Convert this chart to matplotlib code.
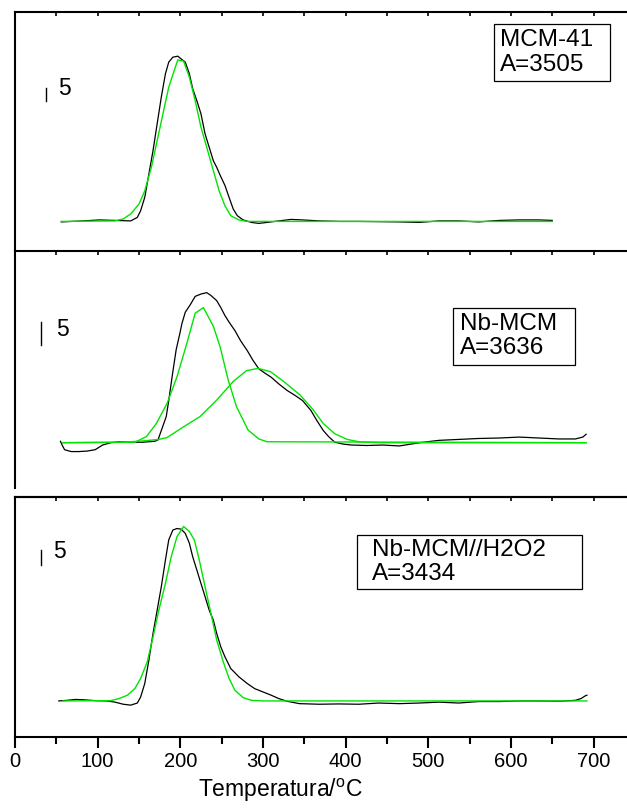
import matplotlib
matplotlib.use("Agg")
import matplotlib.pyplot as plt
from matplotlib.patches import Rectangle
from matplotlib.ticker import MultipleLocator, NullFormatter

plt.rcParams["font.family"] = ["Liberation Sans", "DejaVu Sans"]
plt.rcParams["mathtext.default"] = "regular"

# Panel 1: MCM-41
t1 = [56, 82, 102, 121, 140, 148, 152, 157, 162, 167, 172, 177, 182, 186, 191, 197, 201, 206, 211, 215,
      220, 225, 230, 235, 240, 244, 249, 254, 259, 264, 269, 276, 286, 295, 305, 319, 334, 348, 368, 392,
      416, 465, 489, 513, 537, 561, 586, 610, 634, 650]
s1 = [-0.2, 0.2, 0.6, 0.4, 0.2, 1.6, 4.3, 9.7, 19.1, 28.5, 39.3, 50, 59.4, 64.1, 66.1, 66.5, 65.4, 64.1, 59.4, 53.4,
      48.6, 43.3, 35.2, 29.8, 24.4, 21.8, 18, 14.5, 9.7, 5, 2.3, 0.6, -0.4, -0.8, -0.4, 0.2, 0.8, 0.6, 0.2, 0,
      0, -0.2, -0.4, 0.2, 0.2, -0.2, 0.4, 0.6, 0.6, 0.4]
fit1_t = [56, 121, 131, 140, 150, 157, 165, 172, 179, 186, 194, 197, 204, 211, 218, 225, 232, 240, 247, 254,
          261, 271, 281, 319, 650]
fit1_s = [0, 0.2, 1, 3, 7, 12.3, 21.8, 32.5, 43.3, 54, 62.1, 65, 64.5, 58, 48.6, 37.9, 29.8, 20.4, 12.3, 6.3,
          2.3, 0.6, 0, 0, 0]

# Panel 2: Nb-MCM (two fitted peaks)
t2 = [55, 57, 60, 68, 77, 87, 97, 106, 116, 126, 140, 155, 169, 173, 177, 183, 186, 190, 195, 199,
      202, 206, 212, 218, 225, 232, 237, 244, 249, 254, 259, 266, 273, 281, 288, 295, 303, 310, 319, 329,
      339, 348, 358, 365, 373, 380, 387, 397, 407, 426, 445, 465, 479, 494, 513, 537, 561, 586, 610, 634,
      658, 678, 687, 691]
s2 = [0.3, -0.5, -1.5, -1.9, -1.9, -1.8, -1.5, -0.5, 0, 0.2, 0.1, 0.1, 0.3, 0.6, 2.6, 5.6, 9, 14, 19.9, 23,
      25.5, 27.9, 29.5, 31.3, 31.8, 32.1, 31.5, 30.4, 28.9, 27.2, 25.8, 24, 21.8, 19.7, 17.6, 15.8, 14.8, 14, 12.6, 11.2,
      10.1, 9, 6.9, 4.8, 2.6, 1.2, 0.1, -0.3, -0.5, -0.6, -0.5, -0.7, -0.3, 0.1, 0.5, 0.7, 0.9, 1, 1.2, 1,
      0.8, 0.8, 1.2, 1.8]
fit2a_t = [58, 145, 159, 171, 184, 196, 208, 218, 228, 240, 248, 258, 268, 282, 295, 305, 691]
fit2a_s = [0, 0.1, 1.3, 4.1, 8.4, 14.1, 21.3, 27.7, 28.9, 24.9, 20.6, 13.4, 7.7, 2.7, 0.8, 0.2, 0]
fit2b_t = [58, 126, 150, 174, 184, 204, 224, 244, 264, 280, 294, 309, 325, 345, 361, 373, 387, 402, 416, 440, 691]
fit2b_s = [0, 0.1, 0.3, 0.7, 1.1, 3.4, 5.6, 9.1, 13.1, 15.4, 15.9, 15.2, 13.1, 10.2, 7, 4.1, 1.9, 0.7, 0.2, 0, 0]

# Panel 3: Nb-MCM//H2O2
t3 = [53, 63, 73, 82, 97, 111, 121, 131, 140, 148, 152, 157, 162, 167, 172, 177, 182, 186, 191, 196,
      201, 206, 211, 215, 220, 225, 230, 235, 240, 244, 249, 254, 261, 271, 281, 290, 300, 310, 319, 329,
      344, 368, 392, 416, 440, 465, 489, 513, 537, 561, 586, 610, 634, 658, 678, 685, 690, 692]
s3 = [0, 0.2, 0.5, 0.4, 0.1, 0, -0.4, -1.1, -1.4, -0.7, 1.3, 5.8, 13.6, 22.5, 30.2, 38, 46.9, 53.6, 56.9, 57.4,
      57.2, 55.8, 52.5, 48, 43.6, 39.1, 34.7, 30.2, 26.9, 22.5, 18, 14.7, 10.8, 8, 5.8, 4.1, 3, 1.9, 0.8, -0.1,
      -0.9, -1.1, -1, -1.1, -0.7, -0.9, -0.7, -0.4, -0.7, -0.2, -0.2, 0, 0, -0.1, 0.2, 0.8, 1.7, 1.9]
fit3_t = [58, 116, 126, 136, 145, 152, 160, 167, 174, 182, 189, 196, 204, 211, 217, 223, 230, 237, 244, 252,
          259, 266, 276, 286, 300, 692]
fit3_s = [0, 0.1, 0.8, 1.9, 4.1, 7.5, 13, 21.3, 30.2, 39.1, 48, 54.7, 58.1, 56.4, 53.6, 46.9, 38, 29.2, 20.3, 13,
          7.5, 3.6, 1.1, 0.2, 0, 0]

labels = ["MCM-41\nA=3505", "Nb-MCM\nA=3636", "Nb-MCM//H2O2\nA=3434"]

GREEN = "#00e400"
fig = plt.figure(figsize=(6.27, 8.08), dpi=100)

left, width = 15 / 627, 750 * 0.8265 / 627
ax1 = fig.add_axes([left, 0.690, width, 0.2952])
ax2 = fig.add_axes([left, 0.396, width, 0.2939])
ax3 = fig.add_axes([left, 0.0879, width, 0.297])

ax1.plot(t1, s1, color="black", lw=0.9)
ax1.plot(fit1_t, fit1_s, color=GREEN, lw=1)
ax2.plot(t2, s2, color="black", lw=0.9)
ax2.plot(fit2a_t, fit2a_s, color=GREEN, lw=1)
ax2.plot(fit2b_t, fit2b_s, color=GREEN, lw=1)
ax3.plot(t3, s3, color="black", lw=0.9)
ax3.plot(fit3_t, fit3_s, color=GREEN, lw=1)

ax1.set_ylim(-11.7, 84.3)
ax2.set_ylim(-9.7, 41.1)
ax3.set_ylim(-12, 67.9)

# scale bar (5 units), label box position per panel
bars = [(38, 48.5, 52, 53.6), (31, 20.8, 49.6, 24.2), (31, 45.3, 46.5, 49.8)]
boxes = [((580, 720), (56.5, 79.4), 587), ((530, 677.6), (16.7, 28.9), 538), ((413.8, 686), (37.3, 55.3), 432)]

for ax, (bx, by, tx, ty), ((x0, x1), (y0, y1), lx), lab in zip([ax1, ax2, ax3], bars, boxes, labels):
    ax.set_xlim(0, 750)
    ax.set_yticks([])
    ax.xaxis.set_major_locator(MultipleLocator(100))
    ax.xaxis.set_minor_locator(MultipleLocator(50))
    for sp in ax.spines.values():
        sp.set_linewidth(1.5)
    ax.spines["right"].set_visible(False)
    ax.plot([bx, bx], [by, by + 5], color="black", lw=1)
    ax.text(tx, ty, "5", fontsize=16.5, va="center", ha="left")
    ax.add_patch(Rectangle((x0, y0), x1 - x0, y1 - y0, fill=False, edgecolor="black", lw=0.9))
    ax.text(lx, (y0 + y1) / 2, lab, fontsize=17.5, va="center", ha="left", linespacing=1.15)

for ax in [ax1, ax2]:
    ax.spines["bottom"].set_visible(False)
    ax.tick_params(axis="x", which="both", direction="in", top=True, bottom=False,
                   labelbottom=False, length=3, width=1.2)

ax3.tick_params(axis="x", which="major", direction="out", length=8, width=1.5, labelsize=14.5, pad=3)
ax3.tick_params(axis="x", which="minor", direction="out", length=5, width=1.5)
top = ax3.secondary_xaxis("top")
top.xaxis.set_major_locator(MultipleLocator(50))
top.xaxis.set_major_formatter(NullFormatter())
top.tick_params(axis="x", direction="in", length=3, width=1.2)
top.spines["top"].set_linewidth(1.5)

ax3.set_xlabel("Temperatura/$^{o}$C", fontsize=16.5)
ax3.xaxis.set_label_coords(320.6 / 750, -0.165)

fig.savefig("out.png", dpi=100)
